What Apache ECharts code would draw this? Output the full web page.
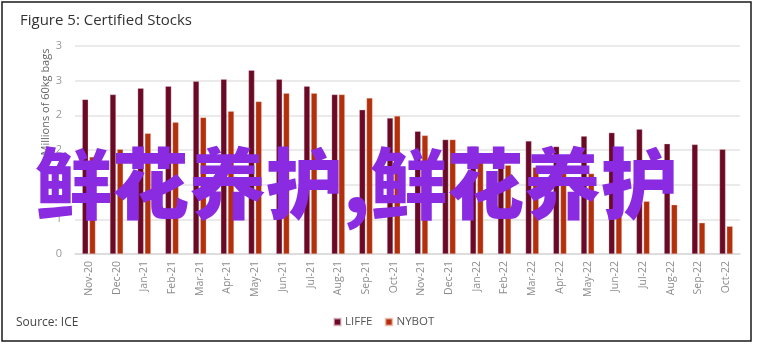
<!DOCTYPE html>
<html>
<head>
<meta charset="utf-8">
<script src="https://cdn.jsdelivr.net/npm/echarts@6/dist/echarts.min.js"></script>
<style>
html,body{margin:0;padding:0;background:#fff;}
#chart{width:758px;height:345px;}
</style>
</head>
<body>
<div id="chart"></div>
<script>
var categories = ['Nov-20','Dec-20','Jan-21','Feb-21','Mar-21','Apr-21','May-21','Jun-21','Jul-21','Aug-21','Sep-21','Oct-21','Nov-21','Dec-21','Jan-22','Feb-22','Mar-22','Apr-22','May-22','Jun-22','Jul-22','Aug-22','Sep-22','Oct-22'];
var liffe = [2.23, 2.30, 2.39, 2.42, 2.49, 2.52, 2.65, 2.52, 2.42, 2.30, 2.08, 1.96, 1.77, 1.65, 1.55, 1.53, 1.63, 1.55, 1.70, 1.75, 1.80, 1.59, 1.58, 1.51];
var nybot = [1.40, 1.51, 1.74, 1.90, 1.97, 2.06, 2.20, 2.32, 2.32, 2.30, 2.25, 1.99, 1.71, 1.65, 1.38, 1.28, 1.25, 1.19, 1.16, 1.00, 0.76, 0.71, 0.45, 0.40];
var yTickLabels = ['0','1','1','2','2','3','3'];

var chart = echarts.init(document.getElementById('chart'));
var font = '"Open Sans", "DejaVu Sans", sans-serif';
chart.setOption({
  animation: false,
  backgroundColor: '#fff',
  textStyle: {fontFamily: font},
  title: {
    text: 'Figure 5: Certified Stocks',
    left: 15, top: 8,
    textStyle: {fontSize: 15, fontWeight: 'normal', color: '#333', fontFamily: font}
  },
  legend: {
    bottom: 12, left: 328,
    itemWidth: 7, itemHeight: 7, itemGap: 12,
    icon: 'rect',
    textStyle: {fontSize: 11.5, color: '#555', fontFamily: font, padding: [0,0,0,-1]},
    data: ['LIFFE','NYBOT']
  },
  grid: {left: 75, right: 18, top: 46, bottom: 91},
  xAxis: {
    type: 'category',
    data: categories,
    axisTick: {show: false},
    axisLine: {lineStyle: {color: '#d9d9d9', width: 1.5}},
    axisLabel: {rotate: 90, color: '#8c8c8c', fontSize: 10.5, margin: 7, interval: 0, fontFamily: font}
  },
  yAxis: {
    type: 'value', min: 0, max: 3, interval: 0.5,
    axisLine: {show: false}, axisTick: {show: false},
    splitLine: {lineStyle: {color: '#e3e3e3', width: 1.5}},
    axisLabel: {
      color: '#999', fontSize: 11, margin: 13, fontFamily: font,
      formatter: function (v) { return yTickLabels[Math.round(v / 0.5)]; }
    }
  },
  series: [
    {name: 'LIFFE', type: 'bar', data: liffe, barWidth: 6, barGap: '20%',
     itemStyle: {color: '#6b0a26', borderColor: 'rgba(230,200,205,0.6)', borderWidth: 0.5}},
    {name: 'NYBOT', type: 'bar', data: nybot, barWidth: 6,
     itemStyle: {color: '#b3300d', borderColor: 'rgba(240,205,195,0.6)', borderWidth: 0.5}}
  ],
  graphic: [
    {type: 'rect', shape: {x: 2, y: 2, width: 749, height: 339}, style: {fill: 'none', stroke: '#1a1a1a', lineWidth: 1.5}, silent: true},
    {type: 'text', x: 46, y: 102, rotation: Math.PI / 2,
     style: {text: 'Millions of 60kg bags', fill: '#666', fontSize: 11, fontFamily: font, textAlign: 'center', textVerticalAlign: 'middle'}},
    {type: 'text', left: 16, top: 317,
     style: {text: 'Source: ICE', fill: '#444', fontSize: 12, fontFamily: font}},
    {type: 'text', x: 35, y: 184, z: 100,
     style: {text: '鲜花养护,鲜花养护', fill: '#8a2be2', fontSize: 77, fontWeight: 900, fontFamily: '"Noto Sans CJK SC", sans-serif', textAlign: 'left', textVerticalAlign: 'middle'}}
  ]
});
</script>
</body>
</html>
